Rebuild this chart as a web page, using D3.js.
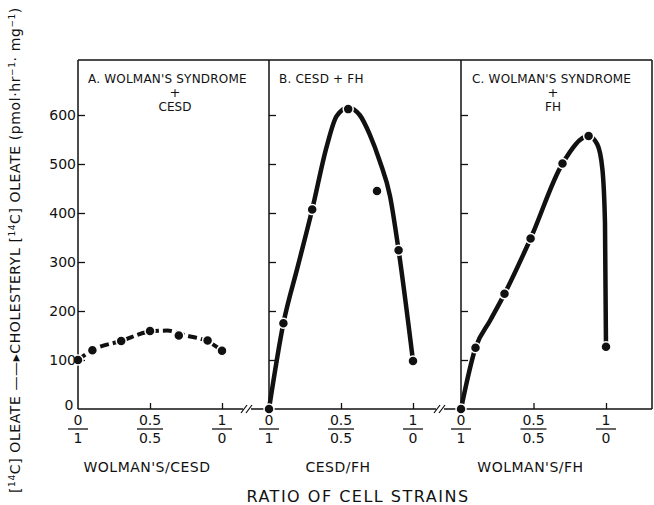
<!DOCTYPE html>
<html>
<head>
<meta charset="utf-8">
<script src="https://cdn.jsdelivr.net/npm/d3@7"></script>
<style>
  body { margin: 0; background: #fff; }
  text { font-family: "DejaVu Sans", sans-serif; fill: #111; }
</style>
</head>
<body>
<script>
// Data
var ratioA = [0, 0.1, 0.3, 0.5, 0.7, 0.9, 1.0];
var valuesA = [100, 120, 139, 159, 150, 140, 119];
var ratioB = [0, 0.1, 0.3, 0.55, 0.75, 0.9, 1.0];
var valuesB = [0, 175, 407, 612, 445, 324, 98];
var ratioC = [0, 0.1, 0.3, 0.48, 0.7, 0.88, 1.0];
var valuesC = [0, 125, 235, 348, 501, 557, 127];

// Hand-drawn fitted curves (ratio, value)
var fitA = [[0, 100], [0.1, 120], [0.3, 139], [0.5, 158], [0.62, 160], [0.75, 150], [0.9, 138], [1.0, 119]];
var fitB = [[0, 0], [0.1, 175], [0.2, 291], [0.3, 407], [0.4, 535], [0.47, 598], [0.55, 615], [0.63, 600], [0.7, 560], [0.77, 505], [0.84, 435], [0.9, 324], [1.0, 98]];
var fitC = [[0, 0], [0.1, 125], [0.2, 180], [0.3, 235], [0.48, 348], [0.7, 501], [0.88, 557], [0.94, 540], [0.975, 490], [0.993, 380], [1.0, 127]];

var yTicks = [100, 200, 300, 400, 500, 600];
var xTicks = [{ v: 0, num: "0", den: "1" }, { v: 0.5, num: "0.5", den: "0.5" }, { v: 1, num: "1", den: "0" }];
var titles = [["A. WOLMAN'S SYNDROME", "+", "CESD"], ["B. CESD + FH"], ["C. WOLMAN'S SYNDROME", "+", "FH"]];
var axisNames = ["WOLMAN'S/CESD", "CESD/FH", "WOLMAN'S/FH"];

var svgWidth = 654, svgHeight = 505;
var axisY = 409, topY = 60;

var svg = d3.select("body").append("svg")
  .attr("width", svgWidth)
  .attr("height", svgHeight);

var yScale = d3.scaleLinear().domain([0, 600]).range([axisY, 115]);

var panels = [
  { left: 78, right: 269, range: [78, 222], ratio: ratioA, values: valuesA, fit: fitA, dashed: true, titleX: 88, titleC: 175 },
  { left: 269, right: 461, range: [269, 413], ratio: ratioB, values: valuesB, fit: fitB, dashed: false, titleX: 279, titleC: 0 },
  { left: 461, right: 652, range: [461, 606], ratio: ratioC, values: valuesC, fit: fitC, dashed: false, titleX: 472, titleC: 553 }
];

var breaks = [247, 440];

// Frame: top line and right border
svg.append("line").attr("x1", 78).attr("x2", 652).attr("y1", topY).attr("y2", topY)
  .attr("stroke", "#111").attr("stroke-width", 1.5);
svg.append("line").attr("x1", 652).attr("x2", 652).attr("y1", topY).attr("y2", axisY)
  .attr("stroke", "#111").attr("stroke-width", 1.5);

panels.forEach(function (p, i) {
  var x = d3.scaleLinear().domain([0, 1]).range(p.range);
  var g = svg.append("g");

  // left axis with inward ticks
  var leftAxis = d3.axisRight(yScale).tickValues(yTicks).tickSize(7).tickFormat("");
  g.append("g").attr("transform", "translate(" + p.left + ",0)").call(leftAxis)
    .call(function (s) {
      s.select(".domain").remove();
      s.selectAll("line").attr("stroke", "#111").attr("stroke-width", 1.3);
    });
  g.append("line").attr("x1", p.left).attr("x2", p.left).attr("y1", topY).attr("y2", axisY)
    .attr("stroke", "#111").attr("stroke-width", 1.5);

  // bottom axis with upward ticks, broken before next panel
  var xEnd = i < 2 ? breaks[i] - 4 : p.right;
  var xStart = i > 0 ? breaks[i - 1] + 4 : p.left;
  g.append("line").attr("x1", xStart).attr("x2", xEnd).attr("y1", axisY).attr("y2", axisY)
    .attr("stroke", "#111").attr("stroke-width", 1.5);
  var bottomAxis = d3.axisTop(x).tickValues([0.5, 1]).tickSize(6).tickFormat("");
  g.append("g").attr("transform", "translate(0," + axisY + ")").call(bottomAxis)
    .call(function (s) {
      s.select(".domain").remove();
      s.selectAll("line").attr("stroke", "#111").attr("stroke-width", 1.3);
    });

  // fraction tick labels
  var tl = g.selectAll(".frac").data(xTicks).enter().append("g")
    .attr("transform", function (d) { return "translate(" + x(d.v) + ",0)"; });
  tl.append("text").attr("y", 425).attr("text-anchor", "middle").style("font-size", "14px")
    .text(function (d) { return d.num; });
  tl.append("line").attr("x1", function (d) { return d.num.length > 1 ? -13 : -10; })
    .attr("x2", function (d) { return d.num.length > 1 ? 13 : 10; })
    .attr("y1", 429).attr("y2", 429).attr("stroke", "#111").attr("stroke-width", 1.3);
  tl.append("text").attr("y", 443).attr("text-anchor", "middle").style("font-size", "14px")
    .text(function (d) { return d.den; });

  // axis name
  g.append("text").attr("x", (p.range[0] + p.range[1]) / 2 - 3).attr("y", 472)
    .attr("text-anchor", "middle").style("font-size", "14px").style("letter-spacing", "0.5px")
    .text(axisNames[i]);

  // panel title
  var t = titles[i];
  g.append("text").attr("x", p.titleX).attr("y", 83).style("font-size", "12px").style("letter-spacing", "0.2px").text(t[0]);
  if (t.length > 1) {
    g.append("text").attr("x", p.titleC).attr("y", 97).attr("text-anchor", "middle").style("font-size", "13px").text(t[1]);
    g.append("text").attr("x", p.titleC).attr("y", 111).attr("text-anchor", "middle").style("font-size", "12px").text(t[2]);
  }

  // fitted curve
  var line = d3.line()
    .x(function (d) { return x(d[0]); })
    .y(function (d) { return yScale(d[1]); })
    .curve(d3.curveMonotoneX);
  g.append("path").datum(p.fit).attr("d", line)
    .attr("fill", "none").attr("stroke", "#111")
    .attr("stroke-width", p.dashed ? 4 : 4.5)
    .attr("stroke-dasharray", p.dashed ? "9,4" : null)
    .attr("stroke-linecap", "butt");

  // data points
  g.selectAll("circle").data(p.ratio).enter().append("circle")
    .attr("cx", function (d) { return x(d); })
    .attr("cy", function (d, j) { return yScale(p.values[j]); })
    .attr("r", 5)
    .attr("fill", "#111")
    .attr("stroke", "#fff").attr("stroke-width", 1.5);
});

// axis breaks
breaks.forEach(function (bx) {
  [-3, 2].forEach(function (dx) {
    svg.append("line").attr("x1", bx + dx - 3).attr("x2", bx + dx + 3)
      .attr("y1", axisY + 4).attr("y2", axisY - 4)
      .attr("stroke", "#111").attr("stroke-width", 1.2);
  });
});

// y tick labels (panel A only)
svg.selectAll(".ylab").data(yTicks).enter().append("text")
  .attr("x", 76).attr("y", function (d) { return yScale(d) + 5; })
  .attr("text-anchor", "end").style("font-size", "14px")
  .text(function (d) { return d; });
svg.append("text").attr("x", 69).attr("y", 410).attr("text-anchor", "middle")
  .style("font-size", "14px").text("0");

// y axis title
var yt = svg.append("text")
  .attr("transform", "translate(20,250) rotate(-90)")
  .attr("text-anchor", "middle")
  .style("font-size", "14px").style("letter-spacing", "0.6px");
yt.append("tspan").text("[");
yt.append("tspan").attr("baseline-shift", "super").style("font-size", "9px").text("14");
yt.append("tspan").text("C] OLEATE \u2014\u2014\u25B8CHOLESTERYL [");
yt.append("tspan").attr("baseline-shift", "super").style("font-size", "9px").text("14");
yt.append("tspan").text("C] OLEATE (pmol\u00B7hr");
yt.append("tspan").attr("baseline-shift", "super").style("font-size", "9px").text("\u22121");
yt.append("tspan").text("\u00B7 mg");
yt.append("tspan").attr("baseline-shift", "super").style("font-size", "9px").text("\u22121");
yt.append("tspan").text(")");

// overall x title
svg.append("text").attr("x", 358).attr("y", 502).attr("text-anchor", "middle")
  .style("font-size", "16px").style("letter-spacing", "1.5px")
  .text("RATIO OF CELL STRAINS");
</script>
</body>
</html>
